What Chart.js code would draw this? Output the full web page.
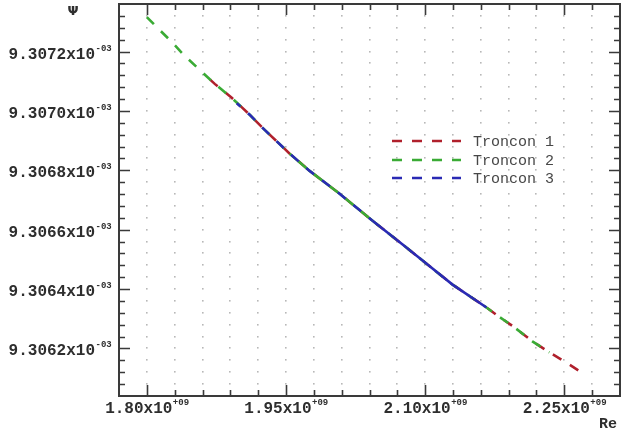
<!DOCTYPE html>
<html>
<head>
<meta charset="utf-8">
<title>Psi vs Re</title>
<script src="https://cdn.jsdelivr.net/npm/chart.js@4.4.0/dist/chart.umd.min.js"></script>
<style>
  html, body { margin: 0; padding: 0; background: #ffffff; overflow: hidden; }
  canvas { display: block; }
</style>
</head>
<body>
<canvas id="psiChart" width="621" height="432"></canvas>
<script>
// Re in units of 1e+09, Psi in units of 1e-03
const re1 = [1.8603, 1.8732, 1.8915, 1.9109, 1.9270, 1.9540, 1.9755, 2.0078, 2.0433, 2.0757,
             2.0972, 2.1295, 2.1661, 2.1779, 2.1963, 2.2156, 2.2339, 2.2533, 2.2716];
const psi1 = [9.307128, 9.307091, 9.307044, 9.306987, 9.306936, 9.306856, 9.306798, 9.306721, 9.306630, 9.306550,
              9.306496, 9.306415, 9.306338, 9.306311, 9.306271, 9.306224, 9.306187, 9.306150, 9.306113];

const re2 = [1.8000, 1.8108, 1.8269, 1.8409, 1.8571, 1.8732, 1.8915, 1.9109, 1.9270, 1.9540, 1.9755,
             2.0078, 2.0433, 2.0757, 2.0972, 2.1295, 2.1661, 2.1779, 2.1963, 2.2156, 2.2339];
const psi2 = [9.307316, 9.307282, 9.307232, 9.307185, 9.307138, 9.307091, 9.307044, 9.306987, 9.306936, 9.306856, 9.306798,
              9.306721, 9.306630, 9.306550, 9.306496, 9.306415, 9.306338, 9.306311, 9.306271, 9.306224, 9.306187];

const re3 = [1.8969, 1.9109, 1.9270, 1.9540, 1.9755, 2.0078, 2.0433, 2.0757, 2.0972, 2.1295, 2.1661];
const psi3 = [9.307026, 9.306987, 9.306936, 9.306856, 9.306798, 9.306721, 9.306630, 9.306550, 9.306496, 9.306415, 9.306338];

const seriesNames = ['Troncon 1', 'Troncon 2', 'Troncon 3'];
const seriesColors = ['#b0202c', '#3aab35', '#2a2ab4'];

// axis ranges and tick labels
const xMin = 1.77, xMax = 2.31, xMinorStep = 0.03;
const yMin = 9.30604, yMax = 9.30736, yMinorStep = 0.00004;
const xTickValues = [1.80, 1.95, 2.10, 2.25];
const xTickLabels = ['1.80', '1.95', '2.10', '2.25'];
const xExponent = '+09';
const yTickValues = [9.3062, 9.3064, 9.3066, 9.3068, 9.3070, 9.3072];
const yTickLabels = ['9.3062', '9.3064', '9.3066', '9.3068', '9.3070', '9.3072'];
const yExponent = '-03';

const MONO = '"Liberation Mono", "DejaVu Sans Mono", monospace';

function toPoints(xs, ys) {
    return xs.map((x, i) => ({ x: x, y: ys[i] }));
}

// "mantissa x10^exp" with a raised exponent
function drawPowerLabel(ctx, text, exp, x, baseline, align) {
    ctx.font = 'bold 16px ' + MONO;
    const wMain = ctx.measureText(text).width;
    ctx.font = 'bold 9px ' + MONO;
    const wExp = ctx.measureText(exp).width;
    let left;
    if (align === 'right') left = x - wMain;
    else left = x - (wMain + wExp) / 2;
    ctx.textAlign = 'left';
    ctx.textBaseline = 'alphabetic';
    ctx.font = 'bold 16px ' + MONO;
    ctx.fillText(text, left, baseline);
    ctx.font = 'bold 9px ' + MONO;
    ctx.fillText(exp, left + wMain + 0.5, baseline - 8);
}

const framePlugin = {
    id: 'framePlugin',
    beforeDatasetsDraw(chart) {
        const ctx = chart.ctx;
        const xs = chart.scales.x, ys = chart.scales.y;
        const nx = Math.round((xMax - xMin) / xMinorStep);
        const ny = Math.round((yMax - yMin) / yMinorStep);
        ctx.save();
        ctx.fillStyle = '#b8b8b8';
        for (let i = 1; i < nx; i++) {
            const px = xs.getPixelForValue(xMin + i * xMinorStep);
            for (let j = 1; j < ny; j++) {
                const py = ys.getPixelForValue(yMin + j * yMinorStep);
                ctx.fillRect(Math.round(px) - 1, Math.round(py) - 1, 1.6, 1.6);
            }
        }
        ctx.restore();
    },
    afterDatasetsDraw(chart) {
        const ctx = chart.ctx;
        const area = chart.chartArea;
        const xs = chart.scales.x, ys = chart.scales.y;
        ctx.save();

        // inward ticks on all four sides
        ctx.strokeStyle = '#3a3a3a';
        ctx.lineWidth = 1.6;
        ctx.beginPath();
        const nx = Math.round((xMax - xMin) / xMinorStep);
        for (let i = 1; i < nx; i++) {
            const v = xMin + i * xMinorStep;
            const k = (v - xTickValues[0]) / 0.15;
            const len = Math.abs(k - Math.round(k)) < 1e-6 ? 11 : 6;
            const px = Math.round(xs.getPixelForValue(v)) + 0.5;
            ctx.moveTo(px, area.top); ctx.lineTo(px, area.top + len);
            ctx.moveTo(px, area.bottom); ctx.lineTo(px, area.bottom - len);
        }
        const ny = Math.round((yMax - yMin) / yMinorStep);
        for (let j = 1; j < ny; j++) {
            const v = yMin + j * yMinorStep;
            const k = (v - yTickValues[0]) / 0.0002;
            const len = Math.abs(k - Math.round(k)) < 1e-6 ? 11 : 6;
            const py = Math.round(ys.getPixelForValue(v)) + 0.5;
            ctx.moveTo(area.left, py); ctx.lineTo(area.left + len, py);
            ctx.moveTo(area.right, py); ctx.lineTo(area.right - len, py);
        }
        ctx.stroke();

        // plot frame
        ctx.lineWidth = 2;
        ctx.strokeStyle = '#3a3a3a';
        ctx.strokeRect(area.left, area.top, area.right - area.left, area.bottom - area.top);

        // tick labels
        ctx.fillStyle = '#2e2e2e';
        xTickValues.forEach((v, i) => {
            drawPowerLabel(ctx, xTickLabels[i] + 'x10', xExponent, xs.getPixelForValue(v), 413, 'center');
        });
        yTickValues.forEach((v, i) => {
            drawPowerLabel(ctx, yTickLabels[i] + 'x10', yExponent, 95, ys.getPixelForValue(v) + 7, 'right');
        });

        // axis titles
        ctx.font = 'bold 13px "DejaVu Sans", sans-serif';
        ctx.textAlign = 'center';
        ctx.textBaseline = 'middle';
        ctx.fillText('\u03a8', 73, 12);
        ctx.font = 'bold 15px ' + MONO;
        ctx.textAlign = 'right';
        ctx.textBaseline = 'alphabetic';
        ctx.fillText('Re', 617, 428);

        // legend
        const rows = [141, 160, 178];
        chart.data.datasets.forEach((ds, i) => {
            const y = rows[i];
            ctx.strokeStyle = ds.borderColor;
            ctx.lineWidth = 2.5;
            ctx.setLineDash([10, 10]);
            ctx.beginPath();
            ctx.moveTo(392, y);
            ctx.lineTo(461, y);
            ctx.stroke();
            ctx.setLineDash([]);
            ctx.fillStyle = '#474747';
            ctx.font = '15px ' + MONO;
            ctx.textAlign = 'left';
            ctx.textBaseline = 'middle';
            ctx.fillText(ds.label, 473, y + 1);
        });

        ctx.restore();
    }
};

new Chart(document.getElementById('psiChart').getContext('2d'), {
    type: 'line',
    data: {
        datasets: [
            {
                label: seriesNames[0],
                data: toPoints(re1, psi1),
                borderColor: seriesColors[0],
                borderWidth: 2.6,
                borderDash: [10, 10],
                borderDashOffset: 10,
                pointRadius: 0,
                tension: 0,
                order: 3
            },
            {
                label: seriesNames[1],
                data: toPoints(re2, psi2),
                borderColor: seriesColors[1],
                borderWidth: 2.6,
                borderDash: [10, 10],
                pointRadius: 0,
                tension: 0,
                order: 2,
                segment: {
                    borderDash: c => (c.p0.parsed.x >= 1.95 && c.p1.parsed.x <= 2.045) ? [] : undefined
                }
            },
            {
                label: seriesNames[2],
                data: toPoints(re3, psi3),
                borderColor: seriesColors[2],
                borderWidth: 2.6,
                borderDash: [10, 10],
                borderDashOffset: 5,
                pointRadius: 0,
                tension: 0,
                order: 1,
                segment: {
                    borderDash: c => (c.p0.parsed.x >= 2.04) ? [] : undefined
                }
            }
        ]
    },
    options: {
        responsive: false,
        animation: false,
        devicePixelRatio: 1,
        layout: { padding: { left: 119, top: 4, right: 1, bottom: 36 } },
        plugins: {
            legend: { display: false },
            tooltip: { enabled: false }
        },
        scales: {
            x: { type: 'linear', min: xMin, max: xMax, display: false },
            y: { type: 'linear', min: yMin, max: yMax, display: false }
        }
    },
    plugins: [framePlugin]
});
</script>
</body>
</html>
